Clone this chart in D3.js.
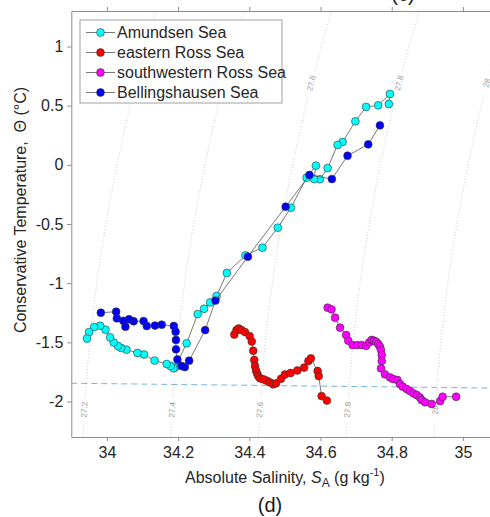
<!DOCTYPE html>
<html lang="en">
<head>
    <meta charset="UTF-8">
    <title>Theta-S</title>
    <script src="https://d3js.org/d3.v7.min.js"></script>
    <style>
        body { margin: 0; background: #fff; }
        text { font-family: "Liberation Sans", Arial, sans-serif; }
    </style>
</head>
<body>
<div id="chart"></div>

<script type=text/javascript>
    var width = 490;
    var height = 517;

    // series: absolute salinity (g/kg) and conservative temperature (degC)
    var seriesNames = ["Amundsen Sea", "eastern Ross Sea", "southwestern Ross Sea", "Bellingshausen Sea"];
    var seriesColors = ["#00ffff", "#ff0000", "#ff00ff", "#0000ff"];

    var amundsenS = [34.792, 34.795, 34.762, 34.728, 34.698, 34.662, 34.648, 34.620, 34.598, 34.582, 34.587, 34.561, 34.517, 34.480, 34.437, 34.389, 34.337, 34.308, 34.290, 34.273, 34.255, 34.224, 34.191, 34.187, 34.179, 34.168, 34.134, 34.104, 34.086, 34.055, 34.040, 34.031, 34.019, 34.009, 33.996, 33.981, 33.964, 33.950, 33.944];
    var amundsenT = [0.514, 0.599, 0.503, 0.489, 0.368, 0.193, 0.168, -0.027, -0.122, -0.120, -0.007, -0.109, -0.362, -0.531, -0.700, -0.765, -0.914, -1.109, -1.163, -1.216, -1.261, -1.508, -1.713, -1.720, -1.700, -1.683, -1.654, -1.603, -1.590, -1.562, -1.548, -1.531, -1.501, -1.458, -1.393, -1.360, -1.371, -1.413, -1.468];

    var eRossS = [34.358, 34.364, 34.370, 34.378, 34.388, 34.401, 34.407, 34.411, 34.414, 34.416, 34.419, 34.422, 34.425, 34.430, 34.439, 34.449, 34.458, 34.467, 34.475, 34.489, 34.500, 34.516, 34.535, 34.554, 34.566, 34.573, 34.592, 34.595, 34.603, 34.618];
    var eRossT = [-1.434, -1.396, -1.383, -1.396, -1.413, -1.447, -1.493, -1.571, -1.649, -1.700, -1.738, -1.763, -1.785, -1.804, -1.812, -1.824, -1.838, -1.855, -1.846, -1.808, -1.772, -1.759, -1.738, -1.713, -1.658, -1.635, -1.742, -1.785, -1.954, -1.992];

    var swRossS = [34.620, 34.631, 34.641, 34.655, 34.672, 34.678, 34.690, 34.703, 34.716, 34.728, 34.737, 34.744, 34.750, 34.756, 34.762, 34.767, 34.770, 34.772, 34.772, 34.770, 34.781, 34.795, 34.804, 34.816, 34.823, 34.831, 34.842, 34.851, 34.861, 34.870, 34.879, 34.884, 34.894, 34.912, 34.936, 34.943, 34.981];
    var swRossT = [-1.207, -1.221, -1.292, -1.376, -1.438, -1.486, -1.523, -1.523, -1.523, -1.529, -1.500, -1.480, -1.486, -1.495, -1.514, -1.537, -1.565, -1.607, -1.658, -1.720, -1.770, -1.796, -1.810, -1.818, -1.852, -1.875, -1.894, -1.911, -1.931, -1.945, -1.965, -1.987, -2.007, -2.021, -1.996, -1.960, -1.960];

    var bellS = [34.767, 34.734, 34.676, 34.632, 34.569, 34.502, 34.396, 34.305, 34.276, 34.231, 34.219, 34.210, 34.198, 34.194, 34.194, 34.193, 34.188, 34.154, 34.135, 34.112, 34.103, 34.075, 34.062, 34.052, 34.046, 34.028, 34.026, 33.983];
    var bellT = [0.334, 0.173, 0.077, -0.120, -0.086, -0.354, -0.776, -1.147, -1.396, -1.655, -1.709, -1.700, -1.645, -1.559, -1.480, -1.410, -1.362, -1.351, -1.358, -1.362, -1.320, -1.322, -1.305, -1.368, -1.318, -1.297, -1.241, -1.250];

    // surface freezing line
    var freezeS = [33.9, 35.1];
    var freezeT = [-1.846, -1.887];

    // isopycnals
    var isoLevels = [27.2, 27.4, 27.6, 27.8, 28.0];
    var isoLabels = ["27.2", "27.4", "27.6", "27.8", "28"];

    var xTicks = [34, 34.2, 34.4, 34.6, 34.8, 35];
    var xTickLabels = ["34", "34.2", "34.4", "34.6", "34.8", "35"];
    var yTicks = [-2, -1.5, -1, -0.5, 0, 0.5, 1];
    var yTickLabels = ["-2", "-1.5", "-1", "-0.5", "0", "0.5", "1"];

    var plotL = 71.3, plotR = 498.5, plotT = 11, plotB = 437;

    var x = d3.scaleLinear().domain([33.9, 35.1]).range([plotL, plotR]);
    var y = d3.scaleLinear().domain([-2.3, 1.3]).range([plotB, plotT]);

    var svg = d3.select("#chart")
        .append("svg")
        .attr("width", width)
        .attr("height", height);

    svg.append("clipPath")
        .attr("id", "plotClip")
        .append("rect")
        .attr("x", plotL)
        .attr("y", plotT)
        .attr("width", plotR - plotL)
        .attr("height", plotB - plotT);

    var plot = svg.append("g").attr("clip-path", "url(#plotClip)");

    // simple fit of sigma0 for cold shelf water: S on an isopycnal as a function of theta
    var eos = {sRef: 33.933, sigRef: 27.2, k: 0.8114, tRef: -2.3, a: 0.0145, b: 0.0118};
    function salOnIso(sig, th) {
        var dt = th - eos.tRef;
        return eos.sRef + (sig - eos.sigRef) / eos.k + eos.a * dt + eos.b * dt * dt;
    }

    var labelThetas = [-2.07, 0.69];
    var thetaGrid = d3.range(-2.5, 1.6, 0.01);

    isoLevels.forEach(function (lev, i) {
        var centres = labelThetas.map(function (th) {
            return [x(salOnIso(lev, th)), y(th)];
        });
        var pts = thetaGrid.map(function (th) {
            var p = [x(salOnIso(lev, th)), y(th)];
            var gap = centres.some(function (c) {
                return Math.hypot(p[0] - c[0], p[1] - c[1]) < 12;
            });
            return {p: p, gap: gap};
        });
        plot.append("path")
            .attr("d", d3.line().defined(function (d) { return !d.gap; })
                .x(function (d) { return d.p[0]; })
                .y(function (d) { return d.p[1]; })(pts))
            .attr("fill", "none")
            .attr("stroke", "#bdbdbd")
            .attr("stroke-width", 0.8)
            .attr("stroke-dasharray", "1,2");

        labelThetas.forEach(function (th, j) {
            var p1 = [x(salOnIso(lev, th - 0.05)), y(th - 0.05)];
            var p2 = [x(salOnIso(lev, th + 0.05)), y(th + 0.05)];
            var ang = Math.atan2(p2[1] - p1[1], p2[0] - p1[0]) * 180 / Math.PI;
            plot.append("text")
                .attr("transform", "translate(" + centres[j][0] + "," + centres[j][1] + ") rotate(" + ang + ")")
                .attr("text-anchor", "middle")
                .attr("dominant-baseline", "central")
                .attr("font-size", "8px")
                .attr("fill", "#9a9a9a")
                .text(isoLabels[i]);
        });
    });

    // freezing line
    plot.append("path")
        .attr("d", d3.line()(freezeS.map(function (s, i) { return [x(s), y(freezeT[i])]; })))
        .attr("fill", "none")
        .attr("stroke", "#74b6e6")
        .attr("stroke-width", 1)
        .attr("stroke-dasharray", "6,4");

    var allSeries = [
        {name: seriesNames[0], color: seriesColors[0], s: amundsenS, t: amundsenT},
        {name: seriesNames[1], color: seriesColors[1], s: eRossS, t: eRossT},
        {name: seriesNames[2], color: seriesColors[2], s: swRossS, t: swRossT},
        {name: seriesNames[3], color: seriesColors[3], s: bellS, t: bellT}
    ];

    var line = d3.line()
        .x(function (d) { return x(d[0]); })
        .y(function (d) { return y(d[1]); });

    allSeries.forEach(function (ser) {
        var pts = ser.s.map(function (s, i) { return [s, ser.t[i]]; });
        plot.append("path")
            .attr("d", line(pts))
            .attr("fill", "none")
            .attr("stroke", "#555")
            .attr("stroke-width", 0.8);
        plot.selectAll(null)
            .data(pts)
            .enter()
            .append("circle")
            .attr("cx", function (d) { return x(d[0]); })
            .attr("cy", function (d) { return y(d[1]); })
            .attr("r", 3.9)
            .attr("fill", ser.color)
            .attr("stroke", "#333")
            .attr("stroke-width", 0.6);
    });

    // axes
    function styleAxis(g) {
        g.select(".domain").attr("stroke", "#8c8c8c");
        g.selectAll(".tick line").attr("stroke", "#8c8c8c");
        g.selectAll(".tick text").attr("fill", "#262626").attr("font-size", "16px")
            .attr("font-family", "Liberation Sans, Arial, sans-serif");
    }

    svg.append("g")
        .attr("transform", "translate(0," + plotB + ")")
        .call(d3.axisBottom(x).tickValues(xTicks).tickSize(4).tickSizeOuter(0).tickPadding(6)
            .tickFormat(function (d, i) { return xTickLabels[i]; }))
        .call(styleAxis);

    svg.append("g")
        .attr("transform", "translate(0," + plotT + ")")
        .call(d3.axisTop(x).tickValues(xTicks).tickSize(4).tickSizeOuter(0).tickFormat(""))
        .call(styleAxis);

    svg.append("g")
        .attr("transform", "translate(" + plotL + ",0)")
        .call(d3.axisLeft(y).tickValues(yTicks).tickSize(4).tickSizeOuter(0).tickPadding(4)
            .tickFormat(function (d, i) { return yTickLabels[i]; }))
        .call(styleAxis);

    // axis titles
    var xl = svg.append("text")
        .attr("x", (plotL + plotR) / 2)
        .attr("y", 483)
        .attr("text-anchor", "middle")
        .attr("font-size", "16px")
        .attr("fill", "#262626");
    xl.append("tspan").text("Absolute Salinity, ");
    xl.append("tspan").attr("font-style", "italic").text("S");
    xl.append("tspan").attr("font-size", "12px").attr("dy", 4).text("A");
    xl.append("tspan").attr("dy", -4).text("\u00a0(g kg");
    xl.append("tspan").attr("font-size", "11px").attr("dy", -7).text("-1");
    xl.append("tspan").attr("dy", 7).text(")");

    svg.append("text")
        .attr("transform", "translate(20,210) rotate(-90)")
        .attr("text-anchor", "middle")
        .attr("dominant-baseline", "central")
        .attr("font-size", "16px")
        .attr("fill", "#262626")
        .text("Conservative Temperature,\u00a0\u00a0\u0398 (\u00b0C)");

    svg.append("text")
        .attr("x", 270)
        .attr("y", 512)
        .attr("text-anchor", "middle")
        .attr("font-size", "20px")
        .attr("fill", "#1a1a1a")
        .text("(d)");

    svg.append("text")
        .attr("x", 403)
        .attr("y", 1)
        .attr("text-anchor", "middle")
        .attr("font-size", "20px")
        .attr("fill", "#1a1a1a")
        .text("(c)");

    // legend
    var lg = svg.append("g");
    lg.append("rect")
        .attr("x", 80)
        .attr("y", 20)
        .attr("width", 202)
        .attr("height", 83)
        .attr("fill", "#fff")
        .attr("stroke", "#a0a0a0")
        .attr("stroke-width", 1);

    allSeries.forEach(function (ser, i) {
        var ly = 32.5 + i * 20;
        lg.append("line")
            .attr("x1", 86).attr("x2", 115)
            .attr("y1", ly).attr("y2", ly)
            .attr("stroke", "#555")
            .attr("stroke-width", 0.8);
        lg.append("circle")
            .attr("cx", 100.5).attr("cy", ly)
            .attr("r", 3.9)
            .attr("fill", ser.color)
            .attr("stroke", "#333")
            .attr("stroke-width", 0.6);
        lg.append("text")
            .attr("x", 117)
            .attr("y", ly)
            .attr("dominant-baseline", "central")
            .attr("font-size", "16px")
            .attr("fill", "#262626")
            .text(ser.name);
    });
</script>
</body>
</html>
